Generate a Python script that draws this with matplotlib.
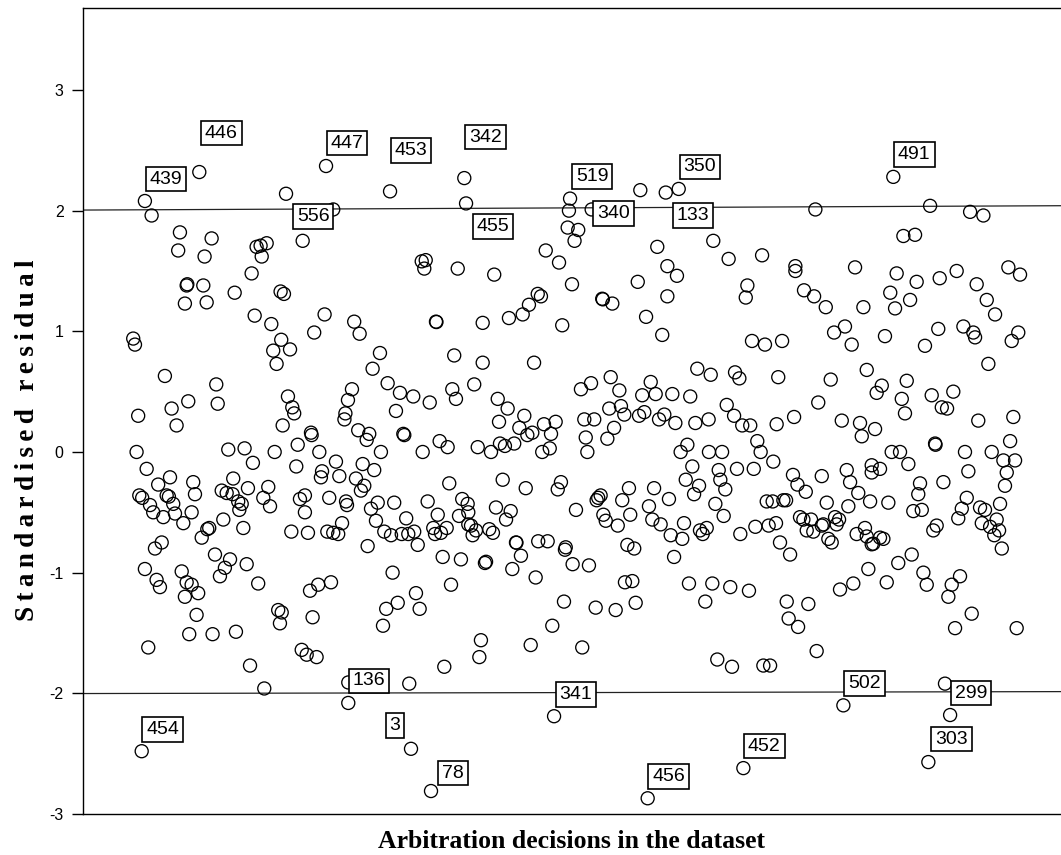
import matplotlib
matplotlib.use("Agg")
import matplotlib.pyplot as plt

plt.rcParams["axes.unicode_minus"] = False

# Position of each arbitration decision in the dataset and its standardised residual
order = [
    19.8, 103.8, 37.5, 57.3, 36.4, 52.9, 114.2, 85.4, 87.9, 91.7, 88.6, 82.3, 41.7, 42.1,
    52.1, 71.7, 100.4, 102.5, 40.6, 54.2, 84.2, 94.6, 127.9, 121.4, 8.3, 9.4, 100.8,
    280.6, 279.8, 284.1, 266.1, 274.4, 282.5, 188.6, 191.1, 190.2, 211.1, 233.9, 261.1,
    263.1, 255.6, 251.7, 243.1, 226.7, 197.5, 197.8, 276.4, 146.4, 149.8,
    325.2, 286.4, 335.8, 370.8, 380.4, 401.3, 422.1, 422.1, 342.1, 348.1, 323.6, 392.1,
    391.1, 301.4, 301.8, 307.7, 342.1, 328.8, 338.9, 395.0, 403.1, 413.8, 427.5,
    434.6, 506.3, 531.3, 539.6, 489.6, 496.9, 459.4, 485.4, 497.9, 512.3, 522.9, 555.2,
    562.5, 535.4, 433.8, 481.4, 493.8, 441.1, 464.6, 484.4, 541.7, 546.9, 446.3, 453.1,
    457.3, 478.1, 511.4, 527.1, 533.3, 534.4, 561.4, 557.3, 503.1,
    95.8, 106.3, 97.9, 28.1, 60.2, 42.7, 32.3, 61.1, 11.4, 35.4,
    105.0, 107.7, 108.9, 101.7, 145.0, 142.5, 140.9, 140.3, 119.4, 119.8,
    111.1, 124.6, 135.0, 10.4, 67.7, 77.9, 96.7, 83.1, 110.2, 16.7,
    126.3, 125.6, 137.1, 31.3, 23.9, 45.8, 70.8, 92.7, 80.0, 63.6,
    66.7, 70.4, 46.9, 12.1, 13.9, 29.2, 30.6, 89.6, 112.5, 115.6,
    130.8, 73.9, 76.1, 74.6, 33.3, 18.8, 20.8, 93.8, 141.3, 141.9,
    34.4, 27.1, 44.8, 115.6, 39.6, 64.6, 138.8, 55.8, 54.6, 51.1,
    77.1, 107.1, 117.5, 129.6, 133.3, 136.4, 26.1, 21.9, 59.4, 68.8,
    79.2,
    65.6, 62.5, 15.6, 22.9, 25.0, 38.6, 41.7, 44.8, 48.9, 40.6,
    86.4, 47.9, 118.8, 123.9, 131.9, 98.9, 101.1, 100.0, 120.4, 43.3,
    57.9, 72.5, 17.7, 113.6, 116.7, 122.9, 81.3, 90.2, 142.7,
    162.5, 157.9, 208.9, 226.7, 258.8, 167.3, 175.0, 183.3, 193.6, 172.5,
    207.7, 210.0, 221.4, 236.1, 242.3, 236.9, 252.7, 249.6, 254.6, 257.7,
    265.0, 272.3, 269.4, 148.9, 155.8, 154.2, 177.1, 177.7, 199.8, 204.8,
    189.2, 163.1, 223.6, 231.9, 237.5, 240.6, 246.4, 263.9, 268.6, 151.7,
    158.9, 147.5, 152.7, 150.6, 205.8, 239.2, 253.6, 275.6, 273.6, 171.4,
    161.1, 156.9, 192.3, 213.9, 217.3, 217.7, 235.0, 244.2, 241.3, 285.0,
    160.0, 178.9, 198.6, 211.9, 217.7, 219.4, 222.5, 220.4, 165.2, 169.4,
    176.1, 180.2, 183.9, 186.1, 195.8, 196.9, 200.6, 204.2, 230.8, 233.1,
    247.5, 247.8, 261.4, 267.3, 278.6, 154.8,
    201.7, 213.1, 228.1, 228.8, 250.6, 245.2, 259.8, 278.1, 282.9, 170.4,
    206.9, 185.0, 187.3, 173.6, 166.4, 164.4, 277.5, 270.2, 225.6, 224.6,
    256.7, 202.7, 180.8,
    360.8, 369.2, 384.4, 387.1, 411.4, 288.1, 294.4, 306.7, 312.1, 331.7,
    326.4, 334.8, 345.2, 356.4, 379.2, 305.8, 313.1, 315.2, 324.4, 327.7,
    336.9, 340.2, 347.1, 359.6, 367.9, 383.8, 388.9, 393.9, 410.4, 421.3,
    290.2, 296.4, 308.8, 304.6, 291.1, 292.1, 350.4, 354.6, 368.1, 376.3,
    398.3, 400.4, 408.3, 357.7, 385.6, 396.1, 374.2, 375.2, 378.3, 353.6,
    361.9, 358.8, 420.6, 423.4, 318.1, 333.8, 298.9, 300.4, 297.9, 313.9,
    343.1, 372.1, 404.2, 407.9, 414.6, 416.3, 330.6, 302.1, 303.6, 318.9,
    311.1, 332.7, 337.9, 352.5, 377.3, 344.2, 351.4, 362.5, 364.2, 366.7,
    387.7, 397.1, 405.4, 410.0, 317.1, 321.4, 412.5,
    293.1, 346.3, 418.8, 315.6, 320.2, 322.3, 297.3, 309.8, 355.6, 370.2,
    381.4, 393.1, 365.8, 416.7, 417.9, 423.8, 288.9, 373.3, 382.5, 402.1,
    406.3,
    542.7, 466.7, 444.2, 476.1, 472.9, 491.7, 488.6, 490.6, 507.3, 520.8,
    513.6, 516.9, 436.4, 451.1, 462.5, 463.6, 471.9, 536.4, 558.3, 556.3,
    509.4, 509.7, 482.3, 487.5, 492.7, 528.1, 544.8, 552.1, 559.4, 554.2,
    553.1, 530.2, 514.6, 500.0, 498.9, 454.2, 456.3, 469.8, 475.0, 469.8,
    438.6, 428.6, 461.4, 468.8, 480.2, 441.7, 455.2, 529.2, 526.1, 523.9,
    537.5, 540.6, 550.0, 547.9, 538.6, 543.8, 549.4, 546.4, 551.1, 495.8,
    501.1, 508.3, 510.4, 425.0, 427.1, 431.9, 429.2, 433.3, 438.6, 439.6,
    446.9, 449.4, 447.9, 442.7, 444.8, 460.4, 465.6, 466.7, 470.8, 469.8,
    475.0, 477.1,
    494.8, 486.4, 467.7, 458.3, 450.0, 479.2, 502.1, 504.2, 519.8, 525.0,
    517.7, 430.2, 532.3, 521.9, 560.4, 435.4, 515.6,
]
resid = [
    1.96, 2.14, 1.82, 1.77, 1.67, 1.62, 1.75, 1.70, 1.71, 1.73, 1.62, 1.48, 1.38, 1.39,
    1.38, 1.32, 1.33, 1.31, 1.23, 1.24, 1.13, 1.06, 1.14, 0.99, 0.94, 0.89, 0.93,
    2.00, 1.86, 1.75, 1.67, 1.57, 1.39, 1.58, 1.59, 1.52, 1.52, 1.47, 1.31,
    1.29, 1.22, 1.14, 1.11, 1.07, 1.08, 1.077, 1.05, 1.08, 0.98,
    2.17, 1.84, 1.70, 1.75, 1.60, 1.63, 1.54, 1.50, 1.54, 1.46, 1.41, 1.38,
    1.28, 1.27, 1.265, 1.23, 1.29, 1.12, 0.97, 0.92, 0.89, 0.92, 1.34,
    2.01, 2.04, 1.99, 1.96, 1.79, 1.80, 1.53, 1.48, 1.41, 1.44, 1.50, 1.53,
    1.47, 1.39, 1.29, 1.32, 1.26, 1.20, 1.20, 1.19, 1.26, 1.14, 0.99, 1.04,
    0.89, 0.96, 1.02, 1.04, 0.99, 0.95, 0.99, 0.92, 0.88,
    0.84, 0.85, 0.73, 0.63, 0.56, 0.42, 0.36, 0.40, 0.30, 0.22,
    0.46, 0.37, 0.32, 0.22, 0.52, 0.43, 0.32, 0.27, 0.16, 0.14,
    0.06, 0.00, -0.08, 0.00, 0.02, 0.03, 0.00, -0.09, -0.12, -0.14,
    -0.16, -0.21, -0.20, -0.21, -0.27, -0.25, -0.22, -0.29, -0.30, -0.32,
    -0.34, -0.35, -0.35, -0.36, -0.38, -0.36, -0.37, -0.38, -0.39, -0.36,
    -0.38, -0.41, -0.43, -0.48, -0.43, -0.44, -0.50, -0.45, -0.41, -0.44,
    -0.51, -0.54, -0.50, -0.50, -0.59, -0.56, -0.59, -0.63, -0.64, -0.71,
    -0.63, -0.66, -0.67, -0.66, -0.67, -0.68, -0.75, -0.80, -0.85, -0.89,
    -0.93,
    -0.96, -1.03, -0.97, -1.06, -1.12, -0.99, -1.08, -1.10, -1.17, -1.20,
    -1.09, -1.35, -1.15, -1.10, -1.08, -1.31, -1.33, -1.42, -1.37, -1.51,
    -1.51, -1.49, -1.62, -1.64, -1.68, -1.70, -1.77, -1.96, -1.91,
    0.82, 0.69, 0.80, 0.74, 0.74, 0.57, 0.49, 0.46, 0.41, 0.34,
    0.52, 0.44, 0.56, 0.44, 0.36, 0.25, 0.30, 0.20, 0.14, 0.16,
    0.23, 0.25, 0.15, 0.18, 0.15, 0.10, 0.15, 0.14, 0.09, 0.04,
    0.00, 0.00, 0.04, 0.00, 0.07, 0.05, 0.07, 0.00, 0.03, -0.10,
    -0.15, -0.22, -0.28, -0.32, -0.26, -0.23, -0.30, -0.25, -0.31, -0.42,
    -0.42, -0.47, -0.41, -0.39, -0.43, -0.50, -0.46, -0.49, -0.56, -0.48,
    -0.57, -0.55, -0.52, -0.53, -0.60, -0.61, -0.65, -0.69, -0.66, -0.69,
    -0.68, -0.68, -0.66, -0.77, -0.63, -0.68, -0.67, -0.63, -0.64, -0.67,
    -0.75, -0.752, -0.74, -0.74, -0.79, -0.78,
    -0.87, -0.89, -0.92, -0.91, -0.86, -0.97, -1.04, -0.81, -0.93, -1.00,
    -1.10, -1.17, -1.30, -1.25, -1.30, -1.44, -1.24, -1.44, -1.56, -1.70,
    -1.60, -1.78, -1.92,
    0.69, 0.64, 0.66, 0.61, 0.62, 0.52, 0.57, 0.62, 0.51, 0.58,
    0.47, 0.48, 0.48, 0.46, 0.39, 0.36, 0.38, 0.31, 0.30, 0.33,
    0.27, 0.31, 0.24, 0.24, 0.27, 0.30, 0.22, 0.22, 0.23, 0.29,
    0.27, 0.27, 0.20, 0.11, 0.12, 0.00, 0.00, 0.06, 0.00, 0.00,
    0.09, 0.00, -0.08, -0.12, -0.14, -0.14, -0.15, -0.23, -0.31, -0.23,
    -0.28, -0.35, -0.19, -0.27, -0.30, -0.30, -0.38, -0.36, -0.40, -0.40,
    -0.39, -0.43, -0.41, -0.41, -0.40, -0.40, -0.45, -0.52, -0.57, -0.52,
    -0.61, -0.56, -0.60, -0.59, -0.53, -0.69, -0.72, -0.65, -0.68, -0.63,
    -0.68, -0.62, -0.61, -0.59, -0.77, -0.80, -0.75,
    -0.94, -0.87, -0.85, -1.08, -1.07, -1.25, -1.29, -1.31, -1.09, -1.09,
    -1.12, -1.15, -1.24, -1.24, -1.38, -1.45, -1.62, -1.72, -1.78, -1.77,
    -1.77,
    0.73, 0.68, 0.60, 0.55, 0.49, 0.59, 0.44, 0.32, 0.47, 0.50,
    0.37, 0.36, 0.41, 0.26, 0.24, 0.13, 0.19, 0.26, 0.29, 0.09,
    0.07, 0.06, 0.00, 0.00, -0.10, 0.00, 0.00, -0.07, -0.07, -0.17,
    -0.28, -0.16, -0.25, -0.26, -0.35, -0.15, -0.25, -0.11, -0.14, -0.17,
    -0.20, -0.33, -0.34, -0.41, -0.42, -0.42, -0.45, -0.38, -0.47, -0.55,
    -0.46, -0.48, -0.43, -0.56, -0.59, -0.62, -0.65, -0.69, -0.80, -0.49,
    -0.48, -0.65, -0.61, -0.54, -0.56, -0.56, -0.65, -0.66, -0.61, -0.60,
    -0.54, -0.56, -0.60, -0.72, -0.75, -0.68, -0.63, -0.70, -0.76, -0.765,
    -0.71, -0.72,
    -0.85, -0.92, -0.97, -1.09, -1.14, -1.08, -1.00, -1.10, -1.10, -1.03,
    -1.20, -1.26, -1.34, -1.46, -1.46, -1.65, -1.92,
]

# Cases flagged with their ID in the dataset
case_ids = ["446", "439", "447", "556", "453", "342", "455", "519", "340", "133", "350",
            "491", "136", "454", "3", "78", "341", "452", "456", "502", "299", "303"]
case_order = [49.6, 15.6, 128.8, 133.3, 168.8, 215.2, 216.3, 281.3, 294.8, 341.1, 349.2,
              483.3, 142.7, 13.6, 181.9, 194.4, 271.3, 389.6, 329.8, 452.1, 518.8, 505.2]
case_resid = [2.32, 2.08, 2.37, 2.01, 2.16, 2.27, 2.06, 2.10, 2.01, 2.15, 2.18,
              2.28, -2.08, -2.48, -2.46, -2.81, -2.19, -2.62, -2.87, -2.10, -2.18, -2.57]

assert len(order) == len(resid)

# where each ID box sits relative to its point (pixels)
label_offsets = {
    "446": (22, 39), "439": (21, 22), "447": (21, 23), "556": (-20, -7),
    "453": (21, 41), "342": (21, 41), "455": (27, -23), "519": (22, 22),
    "340": (22, -4), "350": (21, 22), "133": (27, -23), "491": (21, 22),
    "454": (21, 22), "136": (21, 22), "3": (-16, 23), "78": (22, 18),
    "341": (22, 22), "456": (21, 22), "452": (21, 22), "502": (21, 22),
    "299": (21, 22), "303": (23, 23),
}

fig = plt.figure(figsize=(10.61, 8.55), dpi=100)
ax = fig.add_axes([0.0782, 0.048, 0.9218, 0.9427])

xmin, xmax = -23.1, 588.1
ax.set_xlim(xmin, xmax)
ax.set_ylim(-3.0, 3.68)

marker = dict(s=88, facecolors="none", edgecolors="black", linewidths=0.95, zorder=2)
ax.scatter(order, resid, **marker)
ax.scatter(case_order, case_resid, **marker)

# +/-2 reference lines
ax.plot([xmin, xmax], [2.005, 2.041], color="#222222", lw=0.9, zorder=1)
ax.plot([xmin, xmax], [-2.002, -1.986], color="#222222", lw=0.9, zorder=1)

for cid, x, y in zip(case_ids, case_order, case_resid):
    dx, dy = label_offsets[cid]
    ax.annotate(cid, (x, y), xytext=(dx, dy), textcoords="offset pixels",
                ha="center", va="center", fontsize=14, family="Liberation Sans",
                bbox=dict(boxstyle="square,pad=0.2", fc="white", ec="black", lw=1.2),
                zorder=4)

ax.set_xticks([])
ax.set_yticks([-3, -2, -1, 0, 1, 2, 3])
ax.tick_params(axis="y", direction="out", length=8, width=1, labelsize=11.5, pad=6)
for lab in ax.get_yticklabels():
    lab.set_family("Liberation Sans")

ax.spines["right"].set_visible(False)
for s in ("left", "bottom", "top"):
    ax.spines[s].set_linewidth(1.0)

# axis titles, spaced out like the original output
serif = ["Liberation Serif", "DejaVu Serif"]
fig.text(572 / 1061, 1 - 841 / 855, "Arbitration decisions in the dataset",
         ha="center", va="center", fontsize=18.5, fontweight="bold", family=serif)
fig.text(28 / 1061, 1 - 440 / 855, "\u2009".join("Standardised residual"),
         ha="center", va="center", rotation=90, fontsize=19.5, fontweight="bold",
         family=serif)

fig.savefig("out.png", dpi=100, facecolor="white")
